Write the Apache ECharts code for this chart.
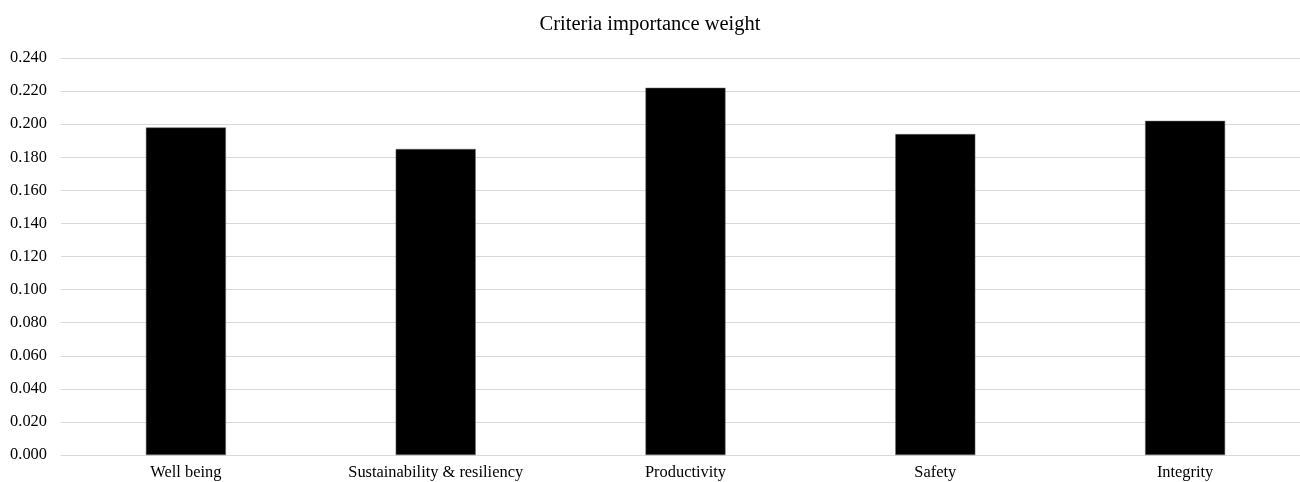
<!DOCTYPE html>
<html>
<head>
<meta charset="utf-8">
<script src="https://cdn.jsdelivr.net/npm/echarts@6/dist/echarts.min.js"></script>
<style>
  html, body { margin: 0; padding: 0; background: #fff; }
  #chart { width: 1300px; height: 482px; }
</style>
</head>
<body>
<div id="chart"></div>
<script>
// Criteria and their importance weights
const categories = ['Well being', 'Sustainability & resiliency', 'Productivity', 'Safety', 'Integrity'];
const weights = [0.198, 0.185, 0.222, 0.194, 0.202];
const yTicks = { min: 0, max: 0.24, step: 0.02 };

const FONT = '"Liberation Serif", "Times New Roman", serif';

const chart = echarts.init(document.getElementById('chart'));
chart.setOption({
  animation: false,
  backgroundColor: '#ffffff',
  title: {
    text: 'Criteria importance weight',
    left: 'center',
    top: 9,
    textStyle: { fontFamily: FONT, fontSize: 20.5, fontWeight: 'normal', color: '#000' }
  },
  // plot area runs slightly past the right edge of the canvas
  grid: { left: 61, width: 1249, top: 58, bottom: 27, containLabel: false, outerBoundsMode: 'none' },
  xAxis: {
    type: 'category',
    data: categories,
    axisLine: { show: true, lineStyle: { color: '#d9d9d9', width: 1 } },
    axisTick: { show: false },
    axisLabel: { fontFamily: FONT, fontSize: 16.4, color: '#000', margin: 10 }
  },
  yAxis: {
    type: 'value',
    min: yTicks.min,
    max: yTicks.max,
    interval: yTicks.step,
    axisLine: { show: false },
    axisTick: { show: false },
    splitLine: { lineStyle: { color: '#d9d9d9', width: 1 } },
    axisLabel: {
      fontFamily: FONT, fontSize: 16.4, color: '#000', margin: 14,
      formatter: v => v.toFixed(3)
    }
  },
  series: [{
    type: 'bar',
    data: weights,
    barWidth: 80,
    itemStyle: { color: '#000', borderColor: '#666', borderWidth: 0.5 }
  }]
});
</script>
</body>
</html>
